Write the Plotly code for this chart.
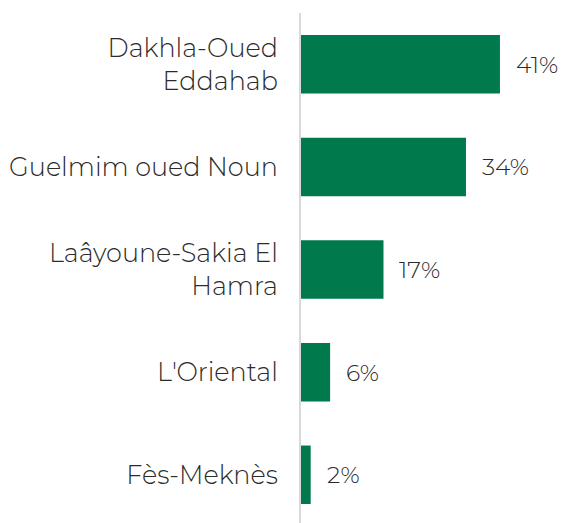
import plotly.graph_objects as go

categories = ["Dakhla-Oued<br>Eddahab", "Guelmim oued Noun", "Laâyoune-Sakia El<br>Hamra", "L'Oriental", "Fès-Meknès"]
values = [41, 34, 17, 6, 2]
value_labels = ["41%", "34%", "17%", "6%", "2%"]

FONT = "Montserrat"
BAR = "#007A4D"
TXT = "#2b2b2b"

fig = go.Figure()
fig.add_trace(go.Bar(
    x=values, y=list(range(len(categories))), orientation="h",
    marker=dict(color=BAR, line=dict(width=0)), width=0.57,
    hoverinfo="skip",
))
for i, (v, lab) in enumerate(zip(values, value_labels)):
    fig.add_annotation(x=v, y=i, text=lab, showarrow=False, xanchor="left",
                       xshift=14, font=dict(family=FONT, size=23.5, color=TXT, weight=300))

fig.update_layout(
    width=564, height=523,
    margin=dict(l=301, r=0, t=13, b=0),
    paper_bgcolor="white", plot_bgcolor="white",
    showlegend=False,
    xaxis=dict(range=[0, 54.2], visible=False, fixedrange=True),
    yaxis=dict(
        range=[4.47, -0.5], tickmode="array",
        tickvals=list(range(len(categories))), ticktext=categories,
        showgrid=False, zeroline=False, showline=True,
        linecolor="#d9d9d9", linewidth=2, ticks="",
        ticklabelstandoff=16, fixedrange=True,
        tickfont=dict(family=FONT, size=25.5, color=TXT, weight=300),
    ),
)
fig.write_html("out.html", config={"displayModeBar": False},
               post_script="document.body.style.margin='0';")
